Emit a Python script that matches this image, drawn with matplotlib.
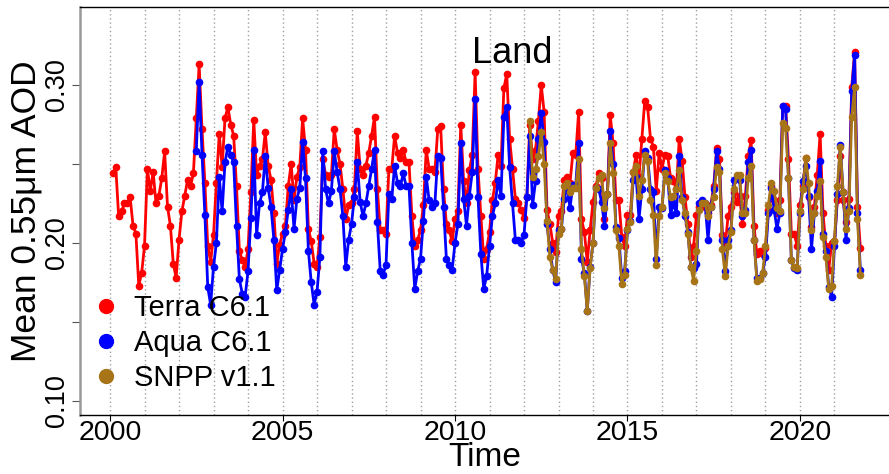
import numpy as np
import pandas as pd
import matplotlib
matplotlib.use("Agg")
import matplotlib.pyplot as plt
from matplotlib.lines import Line2D

plt.rcParams['font.family'] = ['Liberation Sans', 'DejaVu Sans']

# monthly mean 0.55um AOD over land
terra_start = "2000-02"
terra = [
    0.244, 0.248, 0.217, 0.220, 0.225, 0.225, 0.229, 0.211, 0.206, 0.173, 0.181,
    0.198, 0.247, 0.233, 0.245, 0.225, 0.230, 0.241, 0.258, 0.223, 0.211, 0.187, 0.178,
    0.202, 0.220, 0.230, 0.240, 0.236, 0.244, 0.279, 0.313, 0.272, 0.238, 0.198, 0.188,
    0.205, 0.238, 0.269, 0.248, 0.279, 0.286, 0.275, 0.268, 0.236, 0.195, 0.189, 0.185,
    0.196, 0.232, 0.278, 0.243, 0.249, 0.253, 0.270, 0.249, 0.240, 0.219, 0.187, 0.199,
    0.206, 0.211, 0.236, 0.250, 0.227, 0.242, 0.248, 0.279, 0.259, 0.209, 0.201, 0.187,
    0.185, 0.204, 0.253, 0.243, 0.242, 0.243, 0.272, 0.259, 0.250, 0.234, 0.215, 0.224,
    0.225, 0.234, 0.271, 0.247, 0.243, 0.249, 0.257, 0.268, 0.280, 0.234, 0.208, 0.208,
    0.206, 0.247, 0.247, 0.268, 0.257, 0.254, 0.259, 0.251, 0.251, 0.217, 0.198, 0.202,
    0.208, 0.224, 0.259, 0.247, 0.247, 0.245, 0.272, 0.274, 0.234, 0.212, 0.208, 0.201,
    0.215, 0.220, 0.275, 0.239, 0.225, 0.246, 0.256, 0.308, 0.247, 0.217, 0.190, 0.196,
    0.207, 0.227, 0.238, 0.256, 0.249, 0.298, 0.307, 0.266, 0.247, 0.228, 0.225, 0.221,
    0.216, 0.229, 0.275, 0.253, 0.259, 0.277, 0.300, 0.283, 0.221, 0.212, 0.200, 0.194,
    0.217, 0.220, 0.240, 0.242, 0.238, 0.257, 0.256, 0.283, 0.215, 0.207, 0.188, 0.208,
    0.226, 0.236, 0.244, 0.241, 0.215, 0.231, 0.281, 0.263, 0.227, 0.227, 0.204, 0.198,
    0.218, 0.218, 0.245, 0.256, 0.242, 0.266, 0.290, 0.286, 0.266, 0.261, 0.233, 0.257,
    0.247, 0.256, 0.255, 0.241, 0.239, 0.234, 0.266, 0.252, 0.229, 0.212, 0.191, 0.198,
    0.218, 0.223, 0.224, 0.223, 0.219, 0.224, 0.236, 0.260, 0.253, 0.205, 0.199, 0.217,
    0.223, 0.232, 0.226, 0.230, 0.212, 0.230, 0.255, 0.265, 0.211, 0.193, 0.195, 0.193,
    0.197, 0.221, 0.236, 0.227, 0.219, 0.227, 0.287, 0.287, 0.253, 0.206, 0.206, 0.198,
    0.224, 0.236, 0.254, 0.229, 0.210, 0.223, 0.243, 0.269, 0.219, 0.198, 0.183, 0.200,
    0.201, 0.227, 0.255, 0.227, 0.213, 0.228, 0.299, 0.321, 0.223, 0.197,
]

aqua_start = "2002-07"
aqua = [
    0.258, 0.302, 0.256, 0.218, 0.172, 0.161,
    0.185, 0.200, 0.242, 0.220, 0.251, 0.261, 0.256, 0.251, 0.211, 0.177, 0.168, 0.166,
    0.182, 0.216, 0.259, 0.205, 0.225, 0.232, 0.255, 0.235, 0.223, 0.202, 0.170, 0.183,
    0.196, 0.207, 0.221, 0.234, 0.209, 0.228, 0.235, 0.264, 0.241, 0.195, 0.175, 0.161,
    0.169, 0.191, 0.258, 0.234, 0.225, 0.233, 0.258, 0.245, 0.234, 0.217, 0.185, 0.202,
    0.212, 0.229, 0.251, 0.226, 0.217, 0.225, 0.236, 0.247, 0.259, 0.213, 0.182, 0.180,
    0.186, 0.231, 0.228, 0.249, 0.238, 0.236, 0.244, 0.236, 0.236, 0.200, 0.171, 0.182,
    0.190, 0.214, 0.242, 0.227, 0.223, 0.225, 0.255, 0.254, 0.223, 0.190, 0.186, 0.183,
    0.200, 0.212, 0.263, 0.228, 0.211, 0.230, 0.245, 0.291, 0.229, 0.193, 0.171, 0.179,
    0.198, 0.217, 0.225, 0.240, 0.230, 0.280, 0.286, 0.248, 0.225, 0.202, 0.202, 0.200,
    0.205, 0.229, 0.268, 0.224, 0.239, 0.266, 0.282, 0.264, 0.212, 0.196, 0.183, 0.175,
    0.208, 0.209, 0.228, 0.236, 0.222, 0.237, 0.237, 0.263, 0.190, 0.181, 0.157, 0.185,
    0.200, 0.235, 0.234, 0.226, 0.211, 0.231, 0.271, 0.250, 0.210, 0.203, 0.178, 0.182,
    0.208, 0.214, 0.240, 0.242, 0.215, 0.234, 0.258, 0.254, 0.234, 0.232, 0.190, 0.223,
    0.222, 0.246, 0.241, 0.218, 0.225, 0.219, 0.255, 0.229, 0.217, 0.207, 0.185, 0.184,
    0.187, 0.225, 0.227, 0.225, 0.202, 0.223, 0.234, 0.258, 0.247, 0.202, 0.182, 0.202,
    0.208, 0.240, 0.242, 0.240, 0.217, 0.221, 0.251, 0.259, 0.202, 0.178, 0.178, 0.181,
    0.191, 0.219, 0.235, 0.221, 0.209, 0.219, 0.287, 0.285, 0.241, 0.189, 0.184, 0.183,
    0.219, 0.239, 0.249, 0.230, 0.196, 0.219, 0.233, 0.252, 0.206, 0.195, 0.172, 0.166,
    0.198, 0.231, 0.262, 0.232, 0.202, 0.222, 0.296, 0.319, 0.219, 0.183,
]

snpp_start = "2012-03"
snpp = [
    0.277, 0.242, 0.247, 0.255, 0.270, 0.250, 0.214, 0.191, 0.183, 0.177,
    0.206, 0.209, 0.236, 0.238, 0.232, 0.235, 0.235, 0.253, 0.196, 0.179, 0.157, 0.184,
    0.200, 0.235, 0.241, 0.243, 0.222, 0.231, 0.263, 0.244, 0.208, 0.198, 0.174, 0.180,
    0.209, 0.213, 0.245, 0.249, 0.230, 0.240, 0.256, 0.252, 0.227, 0.218, 0.186, 0.217,
    0.223, 0.244, 0.239, 0.229, 0.230, 0.234, 0.246, 0.227, 0.219, 0.206, 0.185, 0.176,
    0.195, 0.221, 0.225, 0.225, 0.217, 0.223, 0.229, 0.248, 0.245, 0.196, 0.179, 0.198,
    0.207, 0.234, 0.243, 0.243, 0.219, 0.219, 0.241, 0.249, 0.202, 0.176, 0.177, 0.181,
    0.198, 0.224, 0.238, 0.233, 0.222, 0.220, 0.276, 0.273, 0.241, 0.189, 0.185, 0.184,
    0.220, 0.234, 0.254, 0.238, 0.208, 0.219, 0.230, 0.239, 0.204, 0.191, 0.171, 0.173,
    0.201, 0.236, 0.261, 0.232, 0.209, 0.220, 0.280, 0.299, 0.215, 0.180,
]

series = [
    ("Terra C6.1", terra_start, terra, "#FF0000"),
    ("Aqua C6.1", aqua_start, aqua, "#0000FF"),
    ("SNPP v1.1", snpp_start, snpp, "#A87418"),
]
grid_years = np.arange(2000, 2022)
year_ticks = [2000, 2005, 2010, 2015, 2020]
aod_ticks = [0.10, 0.15, 0.20, 0.25, 0.30]
aod_labels = ["0.10", "", "0.20", "", "0.30"]


def decimal_time(start, n):
    dates = pd.date_range(start, periods=n, freq="MS")
    return dates.year + (dates.month - 1) / 12.0


fig = plt.figure(figsize=(8.89, 4.74), dpi=100)
ax = fig.add_axes([80 / 889, 59 / 474, 809 / 889, 408 / 474])

ax.vlines(grid_years, 0, 1, transform=ax.get_xaxis_transform(),
          colors="#a0a0a0", linestyles=(0, (1, 2)), linewidth=1.0, zorder=0)

handles = []
for name, start, values, color in series:
    t = decimal_time(start, len(values))
    ax.plot(t, values, color=color, lw=2.0, marker="o", markersize=4.5, zorder=2)
    handles.append(Line2D([], [], color=color, marker="o", linestyle="none",
                          markersize=10, label=name))

ax.set_xlim(1999.13, 2022.58)
ax.set_ylim(0.0911, 0.3494)

ax.spines["right"].set_visible(False)
ax.spines["left"].set_color("#999999")
ax.spines["left"].set_linewidth(1.8)
ax.spines["top"].set_linewidth(1.0)
ax.spines["bottom"].set_linewidth(1.0)

ax.set_xticks(year_ticks)
ax.set_xticklabels([str(y) for y in year_ticks])
ax.set_yticks(aod_ticks)
ax.set_yticklabels(aod_labels, rotation=90, va="center")
ax.tick_params(axis="x", labelsize=20.5, length=4.5, pad=-1)
ax.tick_params(axis="y", labelsize=19.5, length=6, pad=1, color="#555555")

ax.set_xlabel("Time", fontsize=24, labelpad=-3)
ax.set_ylabel("Mean 0.55\u03bcm AOD", fontsize=25.5, labelpad=1)

ax.text(2011.65, 0.314, "Land", fontsize=26, ha="center", va="baseline")

ax.legend(handles=handles, loc="center left", bbox_to_anchor=(0.014, 0.176),
          frameon=False, fontsize=21, handlelength=1.0, handletextpad=0.45,
          labelspacing=0.25, borderpad=0, borderaxespad=0)

fig.savefig("out.png", dpi=100)
